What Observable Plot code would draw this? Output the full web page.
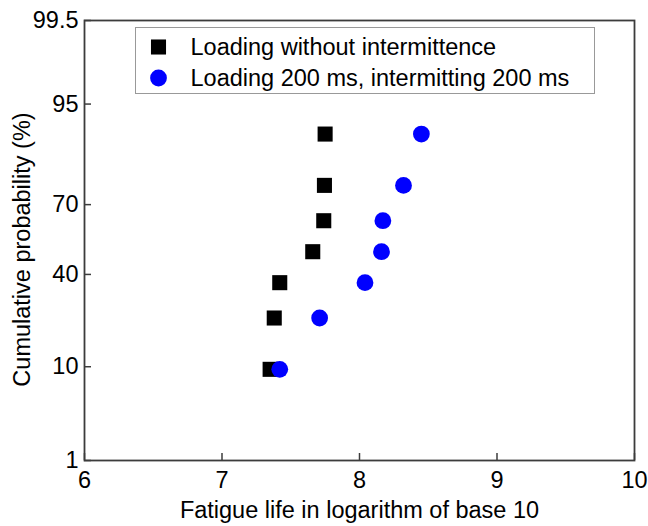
<!DOCTYPE html>
<html>
<head>
<meta charset="utf-8">
<script src="https://cdn.jsdelivr.net/npm/d3@7"></script>
<script src="https://cdn.jsdelivr.net/npm/@observablehq/plot@0.6"></script>
<style>
  html, body { margin: 0; padding: 0; background: white; }
</style>
</head>
<body>
<div id="chart"></div>
<script>
// ---- data ----
const seriesNames = ["Loading without intermittence", "Loading 200 ms, intermitting 200 ms"];
const xLabel = "Fatigue life in logarithm of base 10";
const yLabel = "Cumulative probability (%)";
const cumulativeProbability = [9.5, 23.0, 36.5, 50.0, 63.5, 77.0, 90.5]; // %
const lifeWithoutIntermittence = [7.35, 7.38, 7.42, 7.66, 7.74, 7.745, 7.75];
const lifeIntermitting = [7.42, 7.71, 8.04, 8.16, 8.17, 8.32, 8.45];
const xTicks = [6, 7, 8, 9, 10];
const yTickValues = [1, 10, 40, 70, 95, 99.5];
const yTickLabels = ["1", "10", "40", "70", "95", "99.5"];

// inverse standard normal CDF (probability paper scale)
function probit(p) {
  const a=[-3.969683028665376e+01,2.209460984245205e+02,-2.759285104469687e+02,1.383577518672690e+02,-3.066479806614716e+01,2.506628277459239e+00];
  const b=[-5.447609879822406e+01,1.615858368580409e+02,-1.556989798598866e+02,6.680131188771972e+01,-1.328068155288572e+01];
  const c=[-7.784894002430293e-03,-3.223964580411365e-01,-2.400758277161838e+00,-2.549671348133596e+00,4.374664141464968e+00,2.938163982698783e+00];
  const d=[7.784695709041462e-03,3.224671290700398e-01,2.445134137142996e+00,3.754408661907416e+00];
  const pl = 0.02425, ph = 1 - pl;
  let q, r;
  if (p < pl) { q = Math.sqrt(-2*Math.log(p)); return (((((c[0]*q+c[1])*q+c[2])*q+c[3])*q+c[4])*q+c[5])/((((d[0]*q+d[1])*q+d[2])*q+d[3])*q+1); }
  if (p <= ph) { q = p - 0.5; r = q*q; return (((((a[0]*r+a[1])*r+a[2])*r+a[3])*r+a[4])*r+a[5])*q/(((((b[0]*r+b[1])*r+b[2])*r+b[3])*r+b[4])*r+1); }
  q = Math.sqrt(-2*Math.log(1-p));
  return -(((((c[0]*q+c[1])*q+c[2])*q+c[3])*q+c[4])*q+c[5])/((((d[0]*q+d[1])*q+d[2])*q+d[3])*q+1);
}

const squares = lifeWithoutIntermittence.map((x, i) => ({x, p: cumulativeProbability[i]}));
const circles = lifeIntermitting.map((x, i) => ({x, p: cumulativeProbability[i]}));
const yTicksZ = yTickValues.map(v => probit(v / 100));

const axisColor = "#3c3c3c";
const font = "'Liberation Sans', Arial, Helvetica, sans-serif";
const fs = 23.5;

const chart = Plot.plot({
  width: 648,
  height: 526,
  marginLeft: 84,
  marginRight: 14,
  marginTop: 20,
  marginBottom: 66,
  style: {fontFamily: font, fontSize: fs + "px", color: "black", background: "white", overflow: "visible"},
  x: {domain: [6, 10]},
  y: {domain: [probit(0.01), probit(0.995)]},
  marks: [
    // inward tick marks (no text)
    Plot.axisX({ticks: xTicks, tickSize: 7, dy: -7, tickFormat: () => "", stroke: axisColor, strokeWidth: 1.5, label: null}),
    Plot.axisY({ticks: yTicksZ, tickSize: 7, dx: 7, tickFormat: () => "", stroke: axisColor, strokeWidth: 1.5, label: null}),
    // tick labels
    Plot.text(xTicks, {x: d => d, frameAnchor: "bottom", dy: 19.5, text: d => String(d), lineAnchor: "middle", textAnchor: "middle", fontSize: fs, fill: "black"}),
    Plot.text(yTickValues, {y: d => probit(d / 100), frameAnchor: "left", dx: -6, text: (d, i) => yTickLabels[i], lineAnchor: "middle", textAnchor: "end", fontSize: fs, fill: "black"}),
    // axis titles
    Plot.text([xLabel], {frameAnchor: "bottom", dy: 50, text: d => d, lineAnchor: "middle", textAnchor: "middle", fontSize: fs, fill: "black"}),
    Plot.text([yLabel], {frameAnchor: "left", dx: -62, dy: 9, rotate: -90, text: d => d, lineAnchor: "middle", textAnchor: "middle", fontSize: fs, fill: "black"}),
    Plot.frame({stroke: axisColor, strokeWidth: 1.8}),
    // data
    Plot.dot(squares, {x: "x", y: d => probit(d.p / 100), symbol: "square", r: 8.5, fill: "black", stroke: "none"}),
    Plot.dot(circles, {x: "x", y: d => probit(d.p / 100), symbol: "circle", r: 8.4, fill: "#0000ff", stroke: "none"}),
    // legend
    Plot.frame({stroke: "#999999", strokeWidth: 1, insetLeft: 51, insetTop: 7, insetRight: 40, insetBottom: 367}),
    Plot.dot([seriesNames[0]], {frameAnchor: "top-left", dx: 74, dy: 26.5, symbol: "square", r: 8.5, fill: "black", stroke: "none"}),
    Plot.dot([seriesNames[1]], {frameAnchor: "top-left", dx: 74, dy: 57.5, symbol: "circle", r: 8.4, fill: "#0000ff", stroke: "none"}),
    Plot.text([seriesNames[0]], {frameAnchor: "top-left", dx: 106, dy: 26.5, text: d => d, textAnchor: "start", lineAnchor: "middle", fontSize: fs, fill: "black"}),
    Plot.text([seriesNames[1]], {frameAnchor: "top-left", dx: 106, dy: 57.5, text: d => d, textAnchor: "start", lineAnchor: "middle", fontSize: fs, fill: "black"})
  ]
});
document.getElementById("chart").appendChild(chart);
</script>
</body>
</html>
